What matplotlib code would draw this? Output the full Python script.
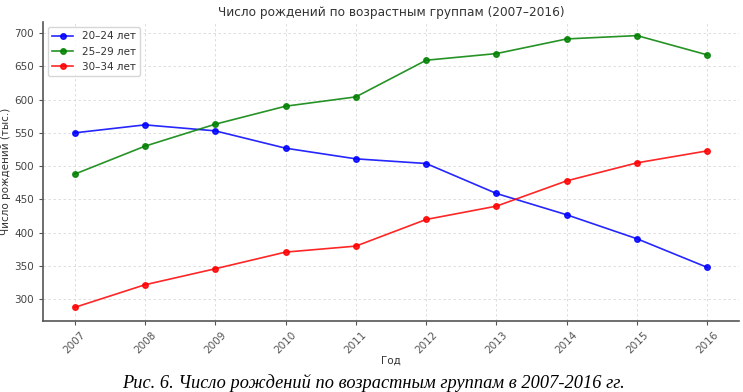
import matplotlib
matplotlib.use("Agg")
import matplotlib.pyplot as plt

years = [2007, 2008, 2009, 2010, 2011, 2012, 2013, 2014, 2015, 2016]
g20_24 = [550, 562, 553, 527, 511, 504, 459, 427, 391, 348]
g25_29 = [488, 530, 563, 590, 604, 659, 669, 691, 696, 667]
g30_34 = [288, 322, 346, 371, 380, 420, 440, 478, 505, 523]
labels = ["20–24 лет", "25–29 лет", "30–34 лет"]
colors = ["blue", "green", "red"]

plt.rcParams['font.family'] = ['DejaVu Sans']
fig = plt.figure(figsize=(7.43, 3.92), dpi=100)
ax = fig.add_axes([43/743, 71/392, 696/743, 299/392])

for vals, lab, c in zip([g20_24, g25_29, g30_34], labels, colors):
    ax.plot(years, vals, marker='o', markersize=4, linewidth=1.2, color=c, label=lab, alpha=0.85)

ax.set_title("Число рождений по возрастным группам (2007–2016)", fontsize=8.7, color='#333333', pad=4)
ax.set_xlabel("Год", fontsize=7.5, color='#333333', labelpad=0)
ax.set_ylabel("Число рождений (тыс.)", fontsize=7.5, color='#333333', labelpad=2)
ax.set_xticks(years)
ax.set_xticklabels([str(y) for y in years], rotation=45, fontsize=7.5, color='#444444')
ax.tick_params(axis='y', labelsize=7.5, labelcolor='#444444', colors='#555555', length=3)
ax.tick_params(axis='x', colors='#555555', length=3)
ax.grid(True, linestyle=(0, (3, 3)), linewidth=0.6, color='#d8d8d8')
for s in ['top', 'right']:
    ax.spines[s].set_visible(False)
for s in ['left', 'bottom']:
    ax.spines[s].set_color('#555555')
    ax.spines[s].set_linewidth(1.2)
ax.legend(loc='upper left', fontsize=7.5, frameon=True, labelcolor='#333333')

fig.text(0.502, 9/392, "Рис. 6. Число рождений по возрастным группам в 2007-2016 гг.",
         ha='center', va='center', fontsize=13.2, style='italic', family='Liberation Serif', color='black')

fig.savefig("out.png", dpi=100)
